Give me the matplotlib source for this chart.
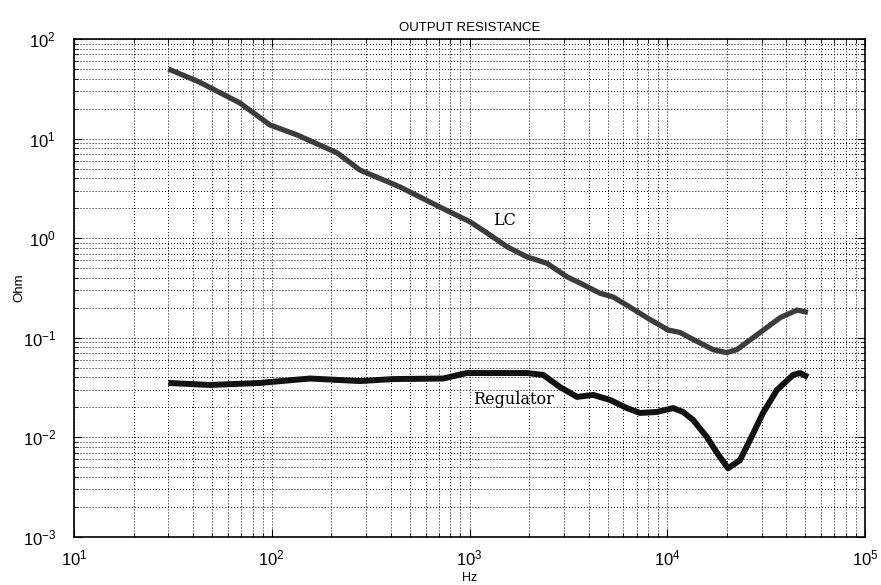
import matplotlib
matplotlib.use("Agg")
import matplotlib.pyplot as plt
from matplotlib.ticker import LogLocator, NullFormatter

plt.rcParams['font.family'] = ['Liberation Sans', 'DejaVu Sans']
plt.rcParams['mathtext.fontset'] = 'custom'
plt.rcParams['mathtext.rm'] = 'Liberation Sans'
plt.rcParams['mathtext.default'] = 'regular'

lc_freq = [30, 43, 69, 98, 134, 214, 279, 445, 710, 1007, 1225, 1550, 1950, 2465,
           3110, 3620, 4570, 5320, 6460, 7900, 10090, 11600, 13030, 17060, 19950,
           22500, 28400, 37200, 45300, 51500]
lc_ohm = [50, 37, 22.8, 13.7, 10.9, 7.2, 4.84, 3.27, 2.05, 1.46, 1.13, 0.82, 0.65,
          0.56, 0.41, 0.355, 0.28, 0.257, 0.204, 0.159, 0.12, 0.113, 0.1, 0.076,
          0.071, 0.076, 0.107, 0.159, 0.19, 0.18]

reg_freq = [30, 48.7, 87, 128, 156, 279, 410, 735, 970, 1950, 2360, 2870, 3500,
            4220, 5130, 6250, 7280, 8870, 10710, 12030, 13500, 15850, 17850, 20300,
            23300, 26200, 30500, 35900, 43300, 46900, 51500]
reg_ohm = [0.0352, 0.0336, 0.0352, 0.0377, 0.039, 0.0368, 0.0385, 0.039, 0.0443,
           0.0443, 0.0424, 0.032, 0.0255, 0.0267, 0.0238, 0.0197, 0.0176, 0.018,
           0.0197, 0.018, 0.015, 0.0101, 0.007, 0.0049, 0.0059, 0.0094, 0.0176,
           0.030, 0.0424, 0.0443, 0.0404]

fig = plt.figure(figsize=(8.81, 5.85), dpi=100)
ax = fig.add_axes([74/881, 1-537/585, (865-74)/881, (537-39)/585])

ax.plot(lc_freq, lc_ohm, color='#3c3c3c', lw=3.8, solid_capstyle='butt',
        solid_joinstyle='round', zorder=3)
ax.plot(reg_freq, reg_ohm, color='#111111', lw=4.3, solid_capstyle='butt',
        solid_joinstyle='round', zorder=3)

ax.set_xscale('log')
ax.set_yscale('log')
ax.set_xlim(10, 1e5)
ax.set_ylim(1e-3, 1e2)

ax.xaxis.set_major_locator(LogLocator(base=10, numticks=10))
ax.yaxis.set_major_locator(LogLocator(base=10, numticks=10))
ax.xaxis.set_minor_locator(LogLocator(base=10, subs=range(2, 10), numticks=20))
ax.yaxis.set_minor_locator(LogLocator(base=10, subs=range(2, 10), numticks=20))
ax.xaxis.set_minor_formatter(NullFormatter())
ax.yaxis.set_minor_formatter(NullFormatter())

ax.grid(True, which='both', color='black', linestyle=(0, (1, 2.1)), linewidth=0.7)
ax.tick_params(which='both', direction='in', top=True, right=True, color='black')
ax.tick_params(which='major', length=6, width=0.8, labelsize=12)
ax.tick_params(which='minor', length=3, width=0.6)
ax.tick_params(axis='x', which='major', pad=8)
ax.tick_params(axis='y', which='major', pad=13)
for s in ax.spines.values():
    s.set_linewidth(1.2)

ax.set_title('OUTPUT RESISTANCE', fontsize=9.5, pad=6)
ax.set_ylabel('Ohm', fontsize=9.5)
ax.set_xlabel('Hz', fontsize=9)
ax.yaxis.set_label_coords(-0.062, 0.5)
ax.xaxis.set_label_coords(0.5, -0.0695)

ax.text(1315, 1.5, 'LC', family=['DejaVu Serif'], fontsize=11.5,
        ha='left', va='center')
ax.text(1043, 0.0238, 'Regulator', family=['DejaVu Serif'],
        fontsize=11.5, ha='left', va='center')

fig.savefig('out.png', dpi=100)
